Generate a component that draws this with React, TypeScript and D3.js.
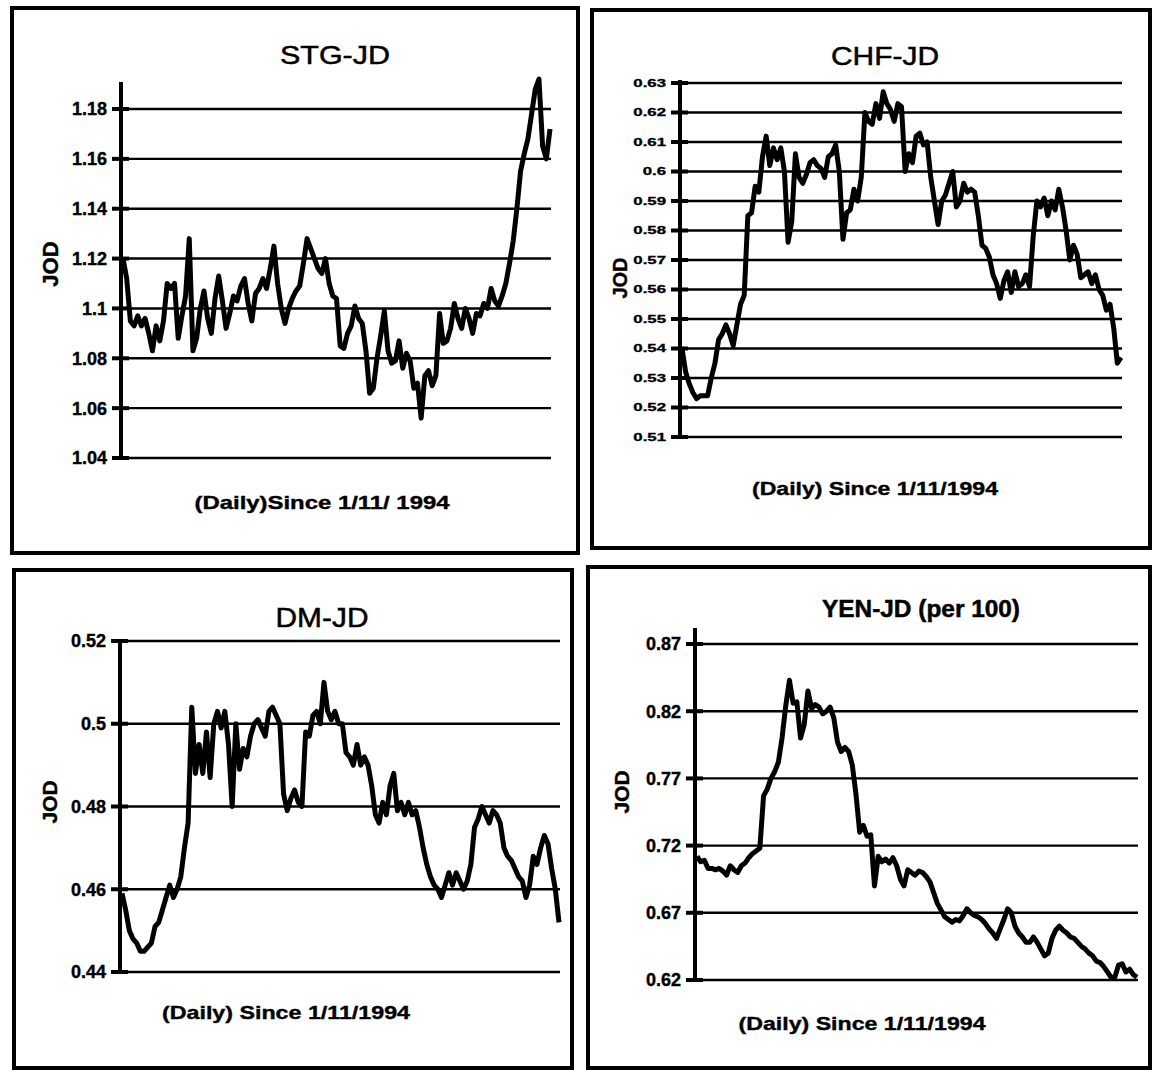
import React from 'react'
import * as d3 from 'd3'

// daily closing rates (since 1/11/1994)
const stgValues = [
  1.12, 1.112, 1.095, 1.093, 1.097, 1.093, 1.096, 1.09, 1.083, 1.093, 1.087, 1.095, 1.11, 1.108, 1.11, 1.088,
  1.097, 1.105, 1.128, 1.083, 1.088, 1.1, 1.107, 1.096, 1.09, 1.104, 1.113, 1.103, 1.092, 1.098, 1.105, 1.103,
  1.109, 1.112, 1.102, 1.095, 1.106, 1.108, 1.112, 1.108, 1.116, 1.125, 1.11, 1.1, 1.094, 1.1, 1.104, 1.107,
  1.109, 1.118, 1.128, 1.124, 1.12, 1.116, 1.114, 1.12, 1.11, 1.105, 1.104, 1.085, 1.084, 1.09, 1.093, 1.101,
  1.096, 1.094, 1.083, 1.066, 1.068, 1.08, 1.089, 1.099, 1.083, 1.078, 1.079, 1.087, 1.076, 1.082, 1.079, 1.068,
  1.07, 1.056, 1.073, 1.075, 1.069, 1.073, 1.098, 1.086, 1.087, 1.092, 1.102, 1.096, 1.092, 1.1, 1.096, 1.09,
  1.098, 1.097, 1.102, 1.1, 1.108, 1.103, 1.101, 1.105, 1.11, 1.118, 1.127, 1.14, 1.155, 1.162, 1.168, 1.178,
  1.188, 1.192, 1.165, 1.16, 1.172
]
const chfValues = [
  0.54, 0.532, 0.528, 0.525, 0.523, 0.524, 0.524, 0.524, 0.53, 0.535, 0.543, 0.545, 0.548, 0.545, 0.541, 0.548,
  0.555, 0.558, 0.585, 0.586, 0.595, 0.593, 0.605, 0.612, 0.602, 0.608, 0.604, 0.608, 0.6, 0.576, 0.583, 0.606,
  0.598, 0.596, 0.599, 0.603, 0.604, 0.602, 0.601, 0.598, 0.605, 0.606, 0.609, 0.6, 0.577, 0.586, 0.587, 0.594,
  0.59, 0.598, 0.62, 0.617, 0.616, 0.623, 0.618, 0.627, 0.623, 0.621, 0.617, 0.623, 0.622, 0.6, 0.606, 0.603,
  0.612, 0.613, 0.609, 0.61, 0.598, 0.59, 0.582, 0.59, 0.592, 0.596, 0.6, 0.588, 0.59, 0.596, 0.593, 0.594,
  0.593, 0.585, 0.575, 0.574, 0.571, 0.565, 0.562, 0.557, 0.563, 0.566, 0.559, 0.566, 0.561, 0.562, 0.565, 0.561,
  0.578, 0.59, 0.588, 0.591, 0.585, 0.59, 0.587, 0.594, 0.588, 0.58, 0.57, 0.575, 0.572, 0.564, 0.565, 0.566,
  0.562, 0.565, 0.56, 0.558, 0.553, 0.555, 0.547, 0.535, 0.537
]
const dmValues = [
  0.459, 0.455, 0.45, 0.448, 0.447, 0.445, 0.445, 0.446, 0.447, 0.451, 0.452, 0.455, 0.458, 0.461, 0.458, 0.46,
  0.463, 0.47, 0.476, 0.504, 0.488, 0.495, 0.488, 0.498, 0.487, 0.5, 0.503, 0.499, 0.503, 0.495, 0.48, 0.5,
  0.489, 0.494, 0.492, 0.497, 0.5, 0.501, 0.499, 0.497, 0.503, 0.504, 0.502, 0.5, 0.483, 0.479, 0.482, 0.484,
  0.481, 0.48, 0.498, 0.497, 0.502, 0.503, 0.5, 0.51, 0.503, 0.501, 0.503, 0.5, 0.5, 0.493, 0.492, 0.49,
  0.495, 0.49, 0.492, 0.49, 0.485, 0.478, 0.476, 0.481, 0.478, 0.485, 0.488, 0.479, 0.481, 0.478, 0.481, 0.478,
  0.479, 0.475, 0.47, 0.466, 0.463, 0.461, 0.46, 0.458, 0.461, 0.464, 0.461, 0.464, 0.462, 0.46, 0.462, 0.466,
  0.475, 0.477, 0.48, 0.478, 0.476, 0.479, 0.478, 0.476, 0.47, 0.468, 0.467, 0.465, 0.463, 0.462, 0.458, 0.461,
  0.468, 0.466, 0.47, 0.473, 0.471, 0.465, 0.46, 0.452
]
const yenValues = [
  0.712, 0.708, 0.709, 0.703, 0.703, 0.702, 0.703, 0.701, 0.698, 0.705, 0.702, 0.7, 0.705, 0.707, 0.711, 0.714,
  0.716, 0.718, 0.757, 0.762, 0.77, 0.775, 0.782, 0.8, 0.824, 0.843, 0.826, 0.827, 0.8, 0.81, 0.835, 0.822,
  0.825, 0.823, 0.818, 0.82, 0.823, 0.815, 0.797, 0.79, 0.793, 0.79, 0.78, 0.758, 0.73, 0.735, 0.727, 0.728,
  0.69, 0.712, 0.708, 0.71, 0.707, 0.711, 0.705, 0.695, 0.69, 0.702, 0.7, 0.698, 0.701, 0.7, 0.697, 0.693,
  0.685, 0.677, 0.672, 0.667, 0.665, 0.663, 0.665, 0.664, 0.668, 0.673, 0.67, 0.668, 0.667, 0.665, 0.662, 0.658,
  0.655, 0.651, 0.658, 0.665, 0.673, 0.67, 0.66, 0.655, 0.652, 0.648, 0.648, 0.652, 0.648, 0.643, 0.638, 0.64,
  0.651, 0.657, 0.66, 0.657, 0.655, 0.652, 0.651, 0.648, 0.645, 0.643, 0.64, 0.638, 0.634, 0.633, 0.63, 0.626,
  0.622, 0.622, 0.631, 0.632, 0.626, 0.628, 0.624, 0.622
]

const stgTicks = [1.04, 1.06, 1.08, 1.1, 1.12, 1.14, 1.16, 1.18]
const stgTickLabels = ['1.04', '1.06', '1.08', '1.1', '1.12', '1.14', '1.16', '1.18']
const chfTicks = [0.51, 0.52, 0.53, 0.54, 0.55, 0.56, 0.57, 0.58, 0.59, 0.6, 0.61, 0.62, 0.63]
const chfTickLabels = ['0.51', '0.52', '0.53', '0.54', '0.55', '0.56', '0.57', '0.58', '0.59', '0.6', '0.61', '0.62', '0.63']
const dmTicks = [0.44, 0.46, 0.48, 0.5, 0.52]
const dmTickLabels = ['0.44', '0.46', '0.48', '0.5', '0.52']
const yenTicks = [0.62, 0.67, 0.72, 0.77, 0.82, 0.87]
const yenTickLabels = ['0.62', '0.67', '0.72', '0.77', '0.82', '0.87']

const titles = ['STG-JD', 'CHF-JD', 'DM-JD', 'YEN-JD (per 100)']
const xTitles = ['(Daily)Since 1/11/ 1994', '(Daily) Since 1/11/1994', '(Daily) Since 1/11/1994', '(Daily) Since 1/11/1994']
const yTitle = 'JOD'

// layout of each scanned panel on the page
const panels = [
  { values: stgValues, ticks: stgTicks, labels: stgTickLabels, title: titles[0], xTitle: xTitles[0],
    box: [12, 8, 578, 553], axisX: 121, gridRight: 551, y0: 458, y1: 109, axisTop: 82,
    titleXY: [335, 64], titleSize: 26, titleBold: false, titleLen: 110,
    tickSize: 18, tickSx: 1, tickSy: 1, jodXY: [50, 264], jodSize: 22,
    xTitleXY: [322, 509], xTitleLen: 255 },
  { values: chfValues, ticks: chfTicks, labels: chfTickLabels, title: titles[1], xTitle: xTitles[1],
    box: [592, 10, 1150, 548], axisX: 680, gridRight: 1122, y0: 437, y1: 83, axisTop: 80,
    titleXY: [885, 65], titleSize: 26, titleBold: false, titleLen: 108,
    tickSize: 14, tickSx: 1.2, tickSy: 0.75, jodXY: [620, 278], jodSize: 20,
    xTitleXY: [875, 495], xTitleLen: 246 },
  { values: dmValues, ticks: dmTicks, labels: dmTickLabels, title: titles[2], xTitle: xTitles[2],
    box: [14, 570, 572, 1068], axisX: 120, gridRight: 560, y0: 972, y1: 641, axisTop: 639,
    titleXY: [322, 627], titleSize: 28, titleBold: false, titleLen: 93,
    tickSize: 18, tickSx: 1, tickSy: 1, jodXY: [49, 802], jodSize: 21,
    xTitleXY: [286, 1019], xTitleLen: 248 },
  { values: yenValues, ticks: yenTicks, labels: yenTickLabels, title: titles[3], xTitle: xTitles[3],
    box: [588, 567, 1150, 1068], axisX: 695, gridRight: 1138, y0: 980, y1: 644, axisTop: 628,
    titleXY: [921, 617], titleSize: 24, titleBold: true, titleLen: 198,
    tickSize: 18, tickSx: 1, tickSy: 1, jodXY: [621, 792], jodSize: 21,
    xTitleXY: [862, 1030], xTitleLen: 247 }
]

const font = '"Liberation Sans", Arial, sans-serif'

function Panel({ p }) {
  const lo = p.ticks[0]
  const hi = p.ticks[p.ticks.length - 1]
  const y = d3.scaleLinear().domain([lo, hi]).range([p.y0, p.y1])
  const x = d3.scaleLinear().domain([0, p.values.length - 1]).range([p.axisX + 2, p.gridRight - 1])
  const line = d3.line().x((d, i) => x(i)).y(d => y(d)).curve(d3.curveLinear)
  const [bx0, by0, bx1, by1] = p.box
  return (
    <g>
      <rect x={bx0} y={by0} width={bx1 - bx0} height={by1 - by0} fill="none" stroke="#000" strokeWidth={4} />
      <text x={p.titleXY[0]} y={p.titleXY[1]} textAnchor="middle" fontFamily={font} fontSize={p.titleSize}
        fontWeight={p.titleBold ? 'bold' : 'normal'} stroke="#000" strokeWidth={0.5}
        textLength={p.titleLen} lengthAdjust="spacingAndGlyphs">{p.title}</text>
      {p.ticks.map((t, i) => (
        <g key={t}>
          <line x1={p.axisX - 9} x2={p.gridRight} y1={y(t)} y2={y(t)} stroke="#000" strokeWidth={2.4} />
          <line x1={p.axisX - 9} x2={p.axisX + 8} y1={y(t)} y2={y(t)} stroke="#000" strokeWidth={4} />
          <text transform={`translate(${p.axisX - 14},${y(t)}) scale(${p.tickSx},${p.tickSy})`} dy="0.36em"
            textAnchor="end" fontFamily={font} fontWeight="bold" fontSize={p.tickSize}
            stroke="#000" strokeWidth={0.4}>{p.labels[i]}</text>
        </g>
      ))}
      <line x1={p.axisX} x2={p.axisX} y1={p.axisTop} y2={p.y0 + 2} stroke="#000" strokeWidth={4} />
      <path d={line(p.values)} fill="none" stroke="#000" strokeWidth={5} strokeLinejoin="round" />
      <text transform={`translate(${p.jodXY[0]},${p.jodXY[1]}) rotate(-90)`} textAnchor="middle" dy="0.36em"
        fontFamily={font} fontWeight="bold" fontSize={p.jodSize} stroke="#000" strokeWidth={0.4}>{yTitle}</text>
      <text x={p.xTitleXY[0]} y={p.xTitleXY[1]} textAnchor="middle" fontFamily={font} fontWeight="bold"
        fontSize={19} stroke="#000" strokeWidth={0.4}
        textLength={p.xTitleLen} lengthAdjust="spacingAndGlyphs">{p.xTitle}</text>
    </g>
  )
}

export default function App() {
  return (
    <svg width={1157} height={1078} style={{ position: 'absolute', left: 0, top: 0, background: '#fff' }}>
      <rect width={1157} height={1078} fill="#fff" />
      {panels.map(p => <Panel key={p.title} p={p} />)}
    </svg>
  )
}
